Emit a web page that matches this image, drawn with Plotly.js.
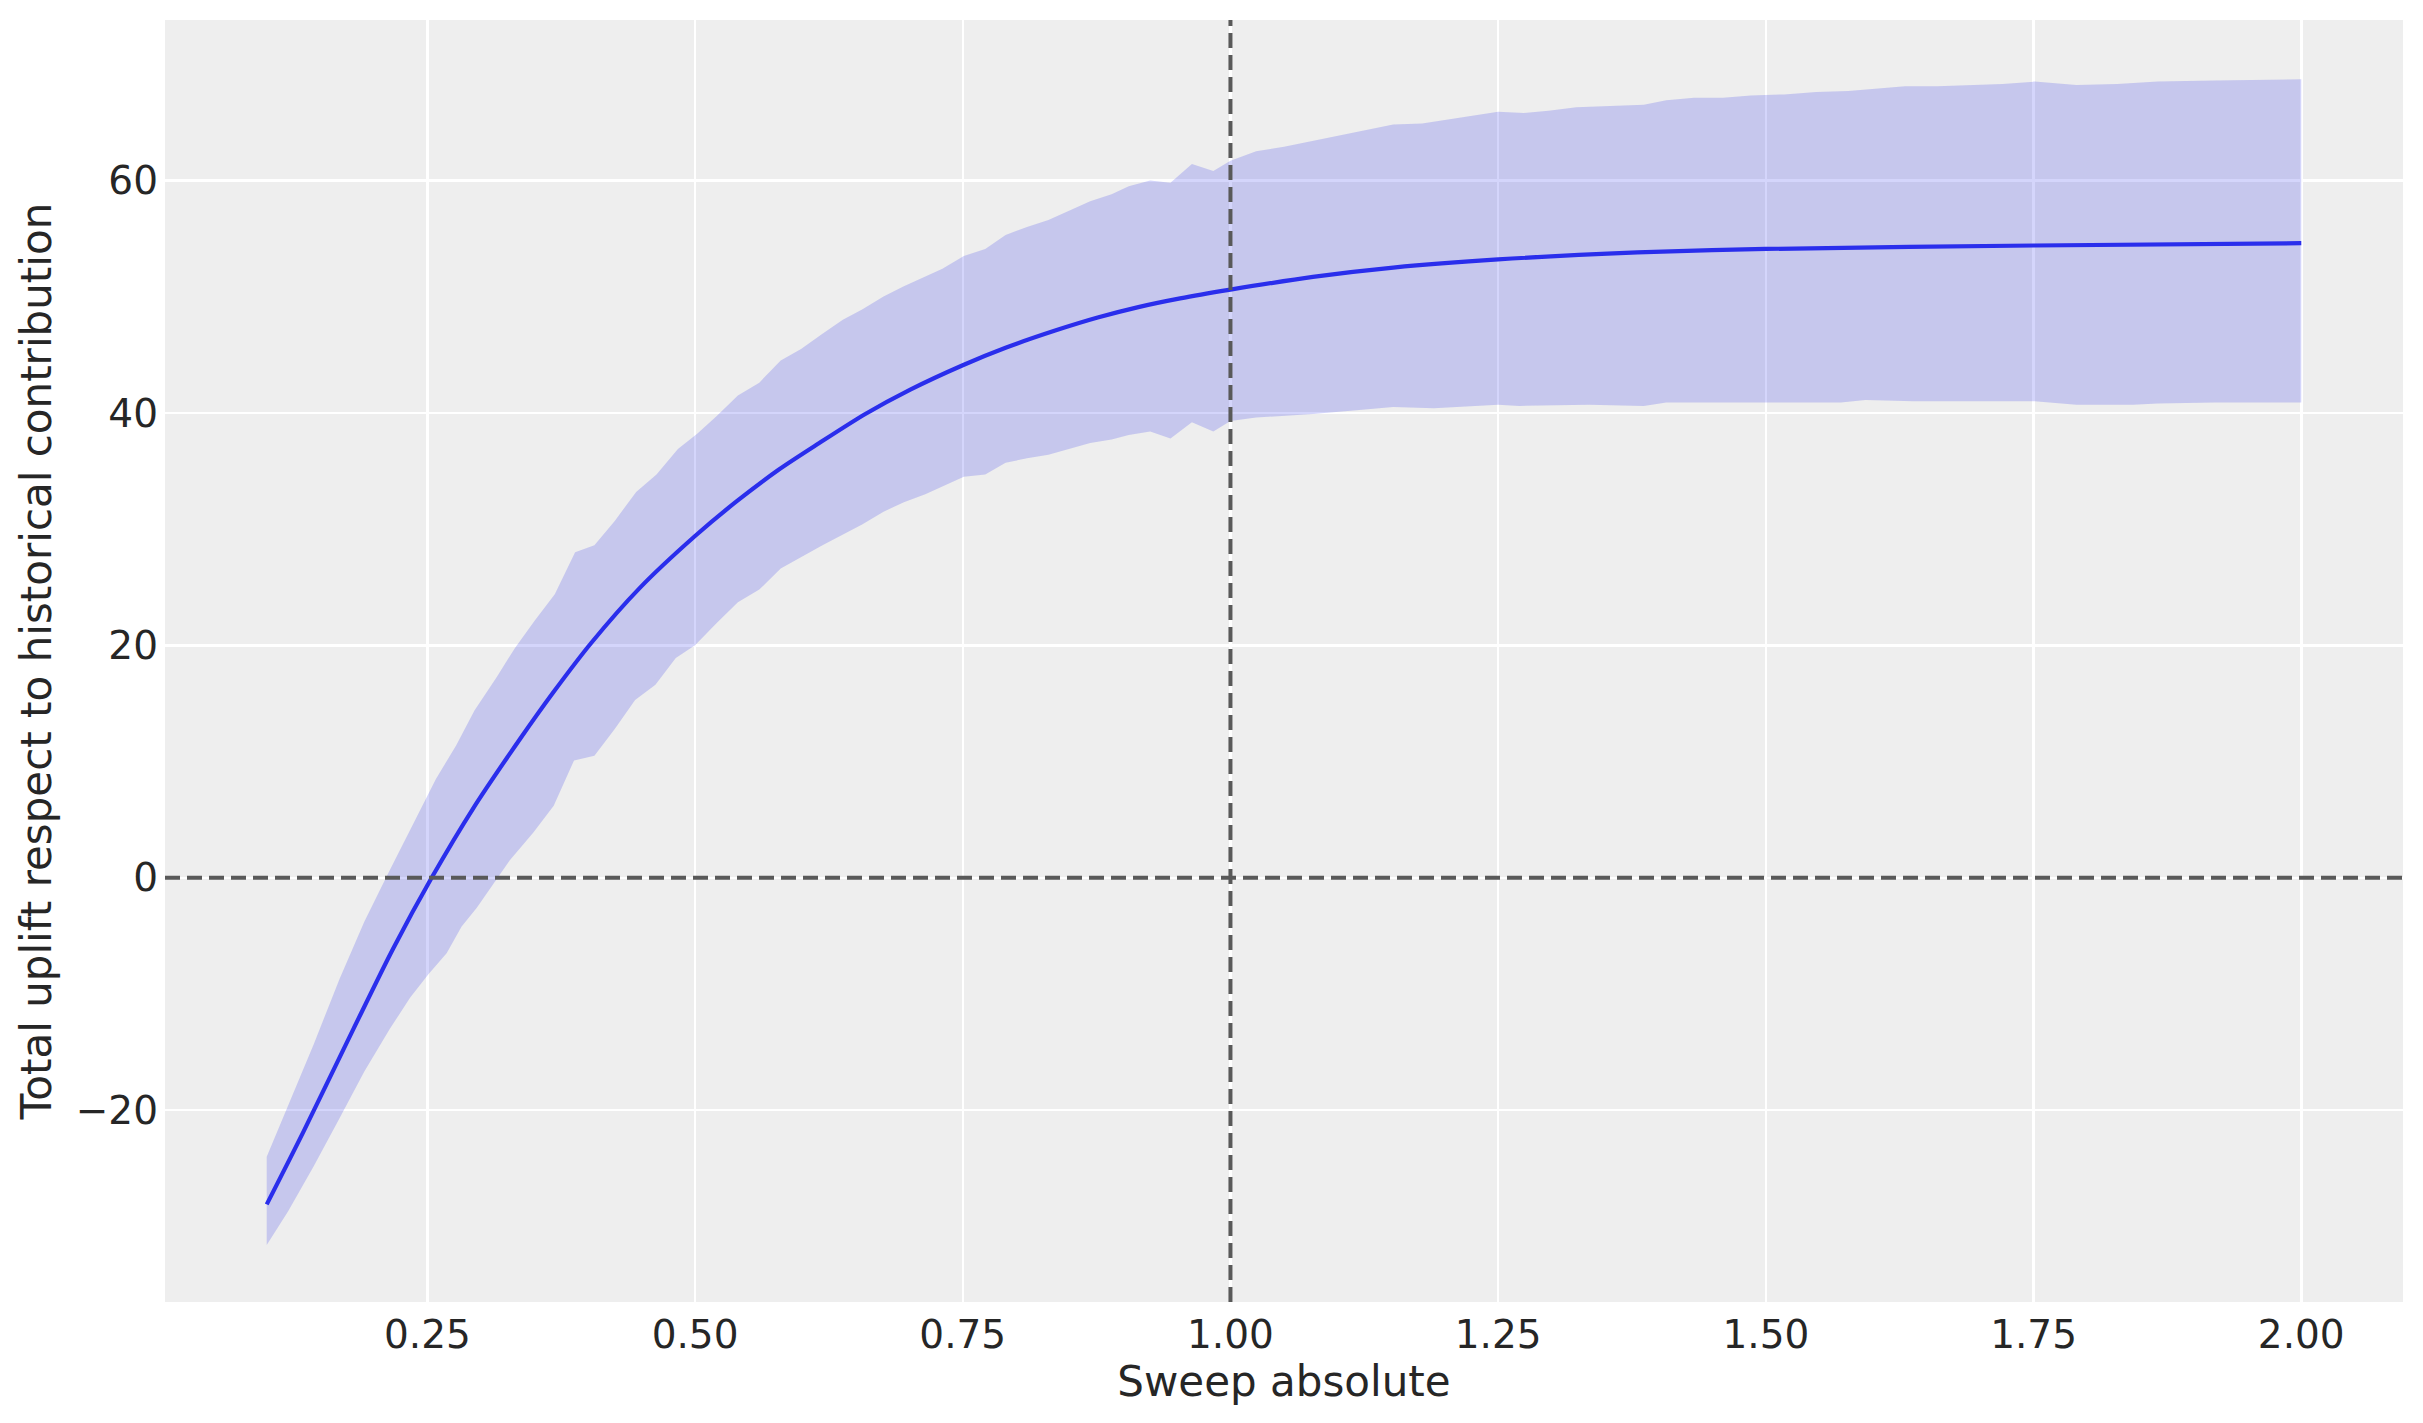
<!DOCTYPE html>
<html>
<head>
<meta charset="utf-8">
<script src="https://cdn.plot.ly/plotly-3.0.1.min.js"></script>
<style>
  html, body { margin: 0; padding: 0; background: #ffffff; }
  #chart { width: 2423px; height: 1423px; }
</style>
</head>
<body>
<div id="chart"></div>
<script>
// upper edge of the HDI band
const upperX = [0.100, 0.120, 0.144, 0.168, 0.191, 0.213, 0.237, 0.258, 0.277, 0.294,
  0.315, 0.332, 0.350, 0.369, 0.388, 0.406, 0.425, 0.445, 0.464, 0.484,
  0.502, 0.520, 0.540, 0.560, 0.580, 0.599, 0.619, 0.638, 0.656, 0.676,
  0.695, 0.715, 0.731, 0.751, 0.771, 0.790, 0.810, 0.830, 0.849, 0.869,
  0.889, 0.905, 0.925, 0.944, 0.964, 0.984, 1.000, 1.024, 1.050, 1.077,
  1.103, 1.126, 1.152, 1.179, 1.206, 1.228, 1.250, 1.274, 1.297, 1.323,
  1.350, 1.386, 1.407, 1.433, 1.460, 1.486, 1.517, 1.547, 1.577, 1.600,
  1.630, 1.660, 1.691, 1.721, 1.751, 1.790, 1.828, 1.866, 1.919, 2.000];
const upperY = [-24.0, -19.6, -14.3, -8.7, -3.8, 0.3, 4.6, 8.5, 11.4, 14.4,
  17.3, 19.8, 22.1, 24.4, 28.0, 28.6, 30.7, 33.2, 34.7, 36.9,
  38.2, 39.7, 41.5, 42.6, 44.5, 45.5, 46.8, 48.0, 48.9, 50.0,
  50.9, 51.7, 52.4, 53.5, 54.1, 55.3, 56.0, 56.6, 57.4, 58.2,
  58.8, 59.5, 60.0, 59.8, 61.4, 60.8, 61.7, 62.5, 62.9, 63.4,
  63.9, 64.3, 64.8, 64.9, 65.3, 65.6, 65.9, 65.8, 66.0, 66.3,
  66.4, 66.5, 66.9, 67.1, 67.1, 67.3, 67.4, 67.6, 67.7, 67.9,
  68.1, 68.1, 68.2, 68.3, 68.5, 68.2, 68.3, 68.5, 68.6, 68.7];

// lower edge of the HDI band
const lowerX = [0.100, 0.120, 0.144, 0.168, 0.191, 0.215, 0.234, 0.251, 0.268, 0.282,
  0.296, 0.311, 0.327, 0.349, 0.368, 0.387, 0.406, 0.425, 0.444, 0.463,
  0.482, 0.500, 0.520, 0.540, 0.560, 0.580, 0.619, 0.656, 0.676, 0.695,
  0.715, 0.751, 0.771, 0.790, 0.810, 0.830, 0.849, 0.869, 0.889, 0.905,
  0.925, 0.944, 0.964, 0.984, 1.000, 1.024, 1.077, 1.115, 1.152, 1.190,
  1.250, 1.270, 1.335, 1.386, 1.407, 1.456, 1.500, 1.570, 1.593, 1.638,
  1.751, 1.790, 1.843, 1.866, 1.919, 2.000];
const lowerY = [-31.6, -28.7, -24.8, -20.7, -16.7, -13.0, -10.3, -8.3, -6.5, -4.2,
  -2.6, -0.6, 1.5, 3.9, 6.2, 10.1, 10.5, 12.8, 15.3, 16.6,
  18.9, 20.0, 21.9, 23.7, 24.8, 26.6, 28.6, 30.4, 31.5, 32.3,
  33.0, 34.5, 34.7, 35.7, 36.1, 36.4, 36.9, 37.4, 37.7, 38.1,
  38.4, 37.8, 39.2, 38.4, 39.3, 39.6, 39.9, 40.2, 40.5, 40.4,
  40.7, 40.6, 40.7, 40.6, 40.9, 40.9, 40.9, 40.9, 41.1, 41.0,
  41.0, 40.7, 40.7, 40.8, 40.9, 40.9];

// mean uplift
const meanX = [0.100, 0.134, 0.181, 0.218, 0.254, 0.293, 0.337, 0.368, 0.403, 0.448,
  0.500, 0.539, 0.578, 0.616, 0.659, 0.701, 0.750, 0.790, 0.837, 0.876,
  0.914, 0.953, 1.000, 1.077, 1.152, 1.250, 1.380, 1.500, 1.751, 2.000];
const meanY = [-28.1, -21.9, -13.0, -6.1, 0.0, 6.0, 12.0, 16.0, 20.2, 24.9,
  29.4, 32.4, 35.1, 37.4, 39.9, 42.0, 44.1, 45.6, 47.1, 48.2,
  49.1, 49.85, 50.6, 51.7, 52.5, 53.2, 53.8, 54.1, 54.4, 54.6];

const xTicks = [0.25, 0.50, 0.75, 1.00, 1.25, 1.50, 1.75, 2.00];
const xTickText = ['0.25', '0.50', '0.75', '1.00', '1.25', '1.50', '1.75', '2.00'];
const yTicks = [-20, 0, 20, 40, 60];
const yTickText = ['\u221220', '0', '20', '40', '60'];

const refX = 1.0;
const refY = 0;

const band = {
  x: upperX.concat(lowerX.slice().reverse()),
  y: upperY.concat(lowerY.slice().reverse()),
  type: 'scatter',
  mode: 'lines',
  fill: 'toself',
  fillcolor: 'rgba(42, 46, 236, 0.2)',
  line: { width: 0 },
  hoverinfo: 'skip',
  showlegend: false
};

const meanLine = {
  x: meanX,
  y: meanY,
  type: 'scatter',
  mode: 'lines',
  line: { color: '#2a2eec', width: 4.2, shape: 'spline', smoothing: 0.8 },
  showlegend: false
};

const font = 'DejaVu Sans, sans-serif';

const layout = {
  width: 2423,
  height: 1423,
  autosize: false,
  margin: { l: 165, r: 20, t: 20, b: 121 },
  paper_bgcolor: '#ffffff',
  plot_bgcolor: '#eeeeee',
  font: { family: font, size: 39, color: '#262626' },
  showlegend: false,
  xaxis: {
    range: [0.005, 2.095],
    tickmode: 'array',
    tickvals: xTicks,
    ticktext: xTickText,
    ticks: '',
    showgrid: true,
    gridcolor: '#ffffff',
    gridwidth: 2.5,
    zeroline: false,
    showline: false,
    ticklabelstandoff: 6,
    tickfont: { family: font, size: 39, color: '#262626' },
    title: { text: 'Sweep absolute', font: { family: font, size: 42, color: '#262626' }, standoff: 10 }
  },
  yaxis: {
    range: [-36.5, 73.8],
    tickmode: 'array',
    tickvals: yTicks,
    ticktext: yTickText,
    ticks: '',
    showgrid: true,
    gridcolor: '#ffffff',
    gridwidth: 2.5,
    zeroline: false,
    showline: false,
    ticklabelstandoff: 6,
    tickfont: { family: font, size: 39, color: '#262626' },
    title: { text: 'Total uplift respect to historical contribution', font: { family: font, size: 42, color: '#262626' }, standoff: 10 }
  },
  shapes: [
    {
      type: 'line', xref: 'x', yref: 'paper',
      x0: refX, x1: refX, y0: 0, y1: 1,
      line: { color: '#595959', width: 4, dash: '15px,7px' },
      layer: 'above'
    },
    {
      type: 'line', xref: 'paper', yref: 'y',
      x0: 0, x1: 1, y0: refY, y1: refY,
      line: { color: '#595959', width: 4, dash: '15px,7px' },
      layer: 'above'
    }
  ]
};

Plotly.newPlot('chart', [band, meanLine], layout, { displayModeBar: false, staticPlot: true });
</script>
</body>
</html>
